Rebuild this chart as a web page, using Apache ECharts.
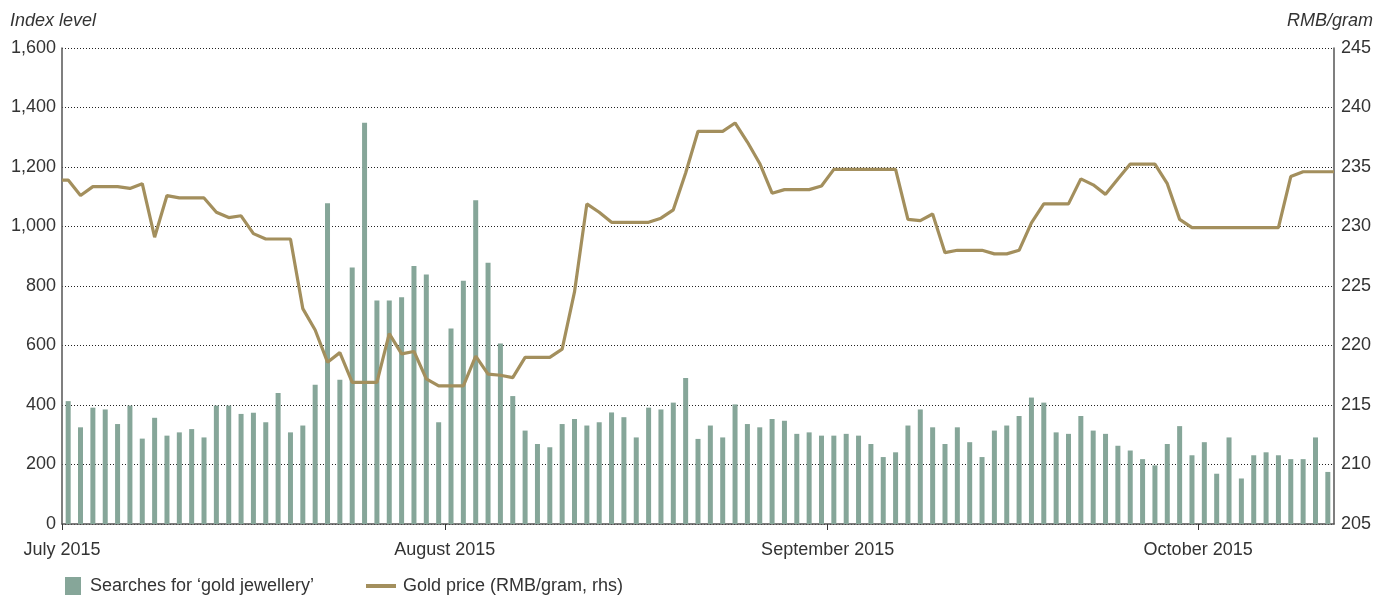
<!DOCTYPE html>
<html>
<head>
<meta charset="utf-8">
<script src="https://cdn.jsdelivr.net/npm/echarts@6/dist/echarts.min.js"></script>
<style>
  html, body { margin: 0; padding: 0; background: #fff; }
  #chart { width: 1389px; height: 597px; }
</style>
</head>
<body>
<div id="chart"></div>
<script>
// daily data, 1 July 2015 .. 11 October 2015 (103 days)
const monthStarts = [0, 31, 62, 92]
const monthLabels = ['July 2015', 'August 2015', 'September 2015', 'October 2015']
const dayCount = 103

// Searches for 'gold jewellery' (index level, lhs)
const searches = [
  413, 325, 391, 385, 336, 398, 287, 357, 297, 308, 319, 291, 398, 398, 370, 374, 342,
  440, 308, 331, 468, 1078, 485, 862, 1349, 751, 751, 762, 867, 839, 342, 657, 818, 1088,
  878, 607, 430, 314, 269, 258, 336, 353, 331, 342, 375, 359, 291, 391, 385, 408, 491,
  286, 331, 291, 402, 336, 325, 353, 347, 303, 308, 297, 297, 303, 297, 269, 225, 241,
  331, 385, 325, 269, 325, 275, 225, 314, 331, 363, 425, 408, 308, 303, 363, 314, 303,
  263, 247, 218, 197, 269, 329, 231, 275, 169, 291, 153, 231, 241, 231, 218, 218, 291, 175
]

// Gold price (RMB/gram, rhs)
const goldPrice = [
  233.9, 232.6, 233.35, 233.35, 233.35, 233.2, 233.6, 229.1, 232.6, 232.4, 232.4, 232.4, 231.2, 230.75, 230.9, 229.4, 228.95,
  228.95, 228.95, 223.1, 221.3, 218.6, 219.4, 216.9, 216.9, 216.9, 221.0, 219.3, 219.5, 217.2, 216.6, 216.6, 216.6, 219.1,
  217.6, 217.5, 217.3, 219.0, 219.0, 219.0, 219.7, 224.5, 231.9, 231.2, 230.35, 230.35, 230.35, 230.35, 230.7, 231.4, 234.5,
  238.0, 238.0, 238.0, 238.7, 237.1, 235.3, 232.8, 233.1, 233.1, 233.1, 233.4, 234.8, 234.8, 234.8, 234.8, 234.8, 234.8,
  230.6, 230.5, 231.05, 227.8, 228.0, 228.0, 228.0, 227.7, 227.7, 228.0, 230.3, 231.9, 231.9, 231.9, 234.0, 233.5, 232.7,
  234.0, 235.25, 235.25, 235.25, 233.6, 230.6, 229.9, 229.9, 229.9, 229.9, 229.9, 229.9, 229.9, 229.9, 234.2, 234.6, 234.6, 234.6
]

const textColor = '#333'
const fontFamily = 'Liberation Sans, Arial, sans-serif'

// bars sit in the middle of each day
const barData = searches.map((v, i) => [i + 0.5, v])
// the price line runs from the left edge to the right edge of the plot
const lineData = [[0, goldPrice[0]]]
  .concat(goldPrice.map((v, i) => [i + 0.5, v]))
  .concat([[dayCount, goldPrice[goldPrice.length - 1]]])

const myChart = echarts.init(document.getElementById('chart'))

const option = {
  animation: false,
  textStyle: { fontFamily: fontFamily },
  grid: { left: 62, right: 55, top: 48, bottom: 73 },
  graphic: [
    {
      type: 'text', left: 10, top: 12,
      style: { text: 'Index level', fontSize: 18, fontStyle: 'italic', fill: textColor, fontFamily: fontFamily }
    },
    {
      type: 'text', right: 16, top: 12,
      style: { text: 'RMB/gram', fontSize: 18, fontStyle: 'italic', fill: textColor, fontFamily: fontFamily }
    }
  ],
  legend: [
    {
      left: 60, top: 572,
      itemWidth: 16, itemHeight: 18, itemGap: 40,
      icon: 'rect',
      textStyle: { fontSize: 18, color: textColor, fontFamily: fontFamily, padding: [0, 0, 0, 4] },
      data: ['Searches for ‘gold jewellery’']
    },
    {
      left: 361, top: 572,
      itemWidth: 30, itemHeight: 4,
      icon: 'rect',
      textStyle: { fontSize: 18, color: textColor, fontFamily: fontFamily, padding: [0, 0, 0, 2] },
      data: ['Gold price (RMB/gram, rhs)']
    }
  ],
  xAxis: {
    type: 'value',
    min: 0,
    max: dayCount,
    axisLine: { show: true, lineStyle: { color: '#555', width: 1.5 } },
    axisTick: { show: true, length: 6, lineStyle: { color: '#333' }, customValues: monthStarts },
    axisLabel: {
      show: true,
      customValues: monthStarts,
      fontSize: 18,
      color: textColor,
      margin: 17,
      formatter: function (v) {
        const k = monthStarts.indexOf(Math.round(v))
        return k >= 0 ? monthLabels[k] : ''
      }
    },
    splitLine: { show: false }
  },
  yAxis: [
    {
      type: 'value',
      min: 0,
      max: 1600,
      interval: 200,
      axisLine: { show: true, lineStyle: { color: '#555', width: 1.5 } },
      axisTick: { show: false },
      axisLabel: {
        fontSize: 18,
        color: textColor,
        margin: 6,
        formatter: function (v) { return v.toLocaleString('en-US') }
      },
      splitLine: { show: true, lineStyle: { color: '#222', type: [1, 2], width: 1 } }
    },
    {
      type: 'value',
      min: 205,
      max: 245,
      interval: 5,
      axisLine: { show: true, lineStyle: { color: '#555', width: 1.5 } },
      axisTick: { show: false },
      axisLabel: { fontSize: 18, color: textColor, margin: 7 },
      splitLine: { show: false }
    }
  ],
  series: [
    {
      name: 'Searches for ‘gold jewellery’',
      type: 'bar',
      yAxisIndex: 0,
      barWidth: 5,
      itemStyle: { color: '#86a699' },
      data: barData
    },
    {
      name: 'Gold price (RMB/gram, rhs)',
      type: 'line',
      yAxisIndex: 1,
      symbol: 'none',
      lineStyle: { color: '#a38f5d', width: 3.2 },
      itemStyle: { color: '#a38f5d' },
      data: lineData
    }
  ]
}

myChart.setOption(option)
</script>
</body>
</html>
